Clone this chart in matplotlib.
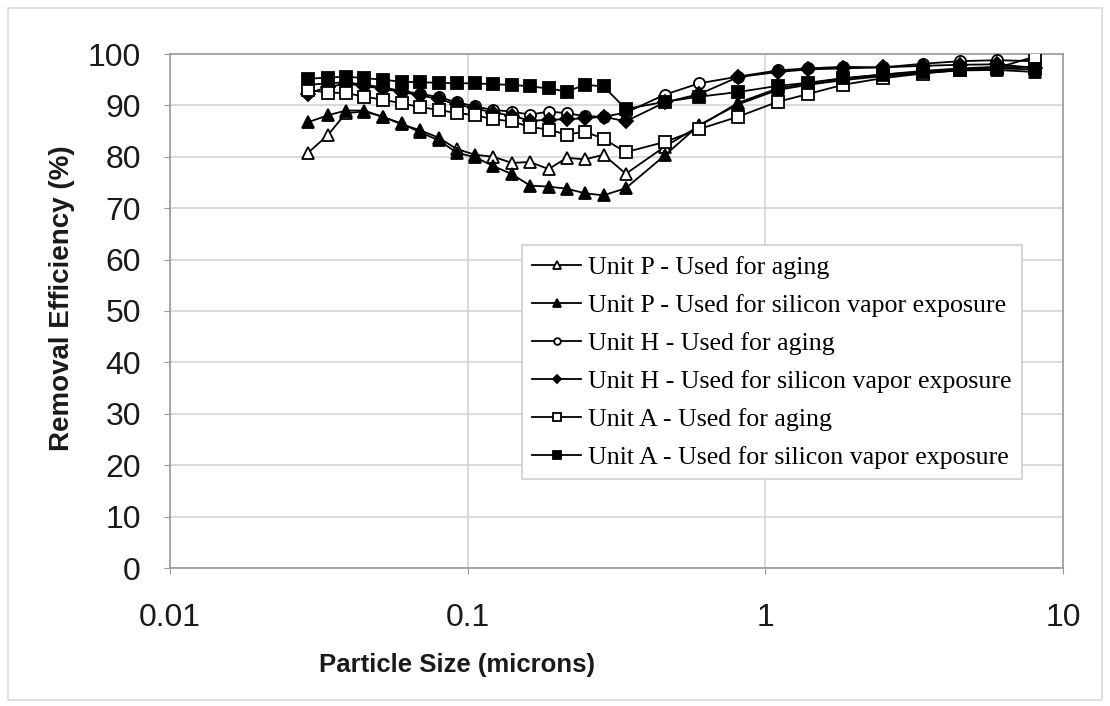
import matplotlib.pyplot as plt
from matplotlib.patches import Rectangle

# Particle size channels (microns)
sizes = [0.029, 0.034, 0.039, 0.045, 0.052, 0.060, 0.069, 0.080, 0.092, 0.106,
         0.122, 0.141, 0.162, 0.187, 0.215, 0.248, 0.286, 0.34, 0.46, 0.60,
         0.81, 1.10, 1.39, 1.82, 2.48, 3.38, 4.50, 6.0, 8.05]

# Removal efficiency (%)
p_aging = [80.7, 84.3, 88.5, 88.8, 87.8, 86.3, 85.2, 83.7, 81.5, 80.4,
           80.0, 78.8, 79.0, 77.6, 79.8, 79.5, 80.4, 76.7, 82.0, 86.0,
           90.5, 93.3, 94.3, 95.2, 96.0, 96.7, 97.2, 97.5, 97.4]
p_silicon = [86.7, 88.1, 89.0, 89.0, 87.7, 86.5, 84.8, 83.2, 80.8, 79.9,
             78.2, 76.6, 74.4, 74.2, 73.8, 72.9, 72.5, 73.9, 80.3, 86.2,
             90.2, 93.0, 94.0, 94.9, 95.7, 96.3, 96.8, 96.9, 96.5]
h_aging = [94.0, 94.3, 94.5, 94.0, 93.5, 92.8, 92.3, 91.6, 90.6, 89.8,
           89.1, 88.8, 88.2, 88.8, 88.5, 87.9, 87.8, 88.6, 92.1, 94.3,
           95.6, 96.8, 97.2, 97.5, 97.4, 98.1, 98.6, 98.8, 98.6]
h_silicon = [92.3, 93.6, 94.2, 93.8, 93.2, 92.6, 92.0, 91.2, 90.2, 89.4,
             88.6, 88.0, 87.0, 87.2, 87.3, 87.5, 87.8, 86.9, 90.6, 92.2,
             95.5, 96.5, 97.0, 97.2, 97.4, 97.7, 97.9, 98.0, 97.3]
a_aging = [93.0, 92.5, 92.4, 91.7, 91.1, 90.4, 89.7, 89.1, 88.5, 88.1,
           87.3, 86.9, 85.8, 85.3, 84.3, 84.9, 83.5, 80.9, 82.9, 85.4,
           87.8, 90.7, 92.2, 94.0, 95.3, 96.2, 96.9, 97.3, 99.5]
a_silicon = [95.2, 95.4, 95.6, 95.3, 95.0, 94.6, 94.5, 94.4, 94.3, 94.3,
             94.1, 94.0, 93.7, 93.3, 92.7, 94.0, 93.7, 89.3, 90.7, 91.7,
             92.6, 93.8, 94.4, 95.3, 96.0, 96.5, 97.0, 97.2, 97.0]

labels = ["Unit P - Used for aging",
          "Unit P - Used for silicon vapor exposure",
          "Unit H - Used for aging",
          "Unit H - Used for silicon vapor exposure",
          "Unit A - Used for aging",
          "Unit A - Used for silicon vapor exposure"]

fig = plt.figure(figsize=(11.1, 7.06), dpi=100)
ax = fig.add_axes([170 / 1110, 1 - 568 / 706, 893 / 1110, 514 / 706])

# light frame around the whole chart
fig.patches.append(Rectangle((8 / 1110, 6 / 706), 1094 / 1110, 692 / 706,
                             transform=fig.transFigure, fill=False,
                             edgecolor='#d9d9d9', linewidth=1.2))

series = [
    (p_aging, '^', 'white', 9),
    (p_silicon, '^', 'black', 9),
    (h_aging, 'o', 'white', 8),
    (h_silicon, 'D', 'black', 7),
    (a_aging, 's', 'white', 8.5),
    (a_silicon, 's', 'black', 8.5),
]
for (vals, mk, fc, ms), lab in zip(series, labels):
    ax.plot(sizes, vals, color='black', linewidth=1.3, marker=mk,
            markerfacecolor=fc, markeredgecolor='black', markeredgewidth=1.3,
            markersize=ms, label=lab, zorder=3)

ax.set_xscale('log')
ax.set_xlim(0.01, 10)
ax.set_ylim(0, 100)
ax.set_yticks(range(0, 101, 10))
ax.set_xticks([0.01, 0.1, 1, 10])
ax.set_xticklabels(['0.01', '0.1', '1', '10'])
ax.minorticks_off()
ax.grid(True, color='#d4d4d4', linewidth=1.2)
ax.set_axisbelow(True)
for s in ax.spines.values():
    s.set_color('#9a9a9a')
    s.set_linewidth(1.2)
ax.tick_params(axis='both', length=4, color='#9a9a9a', labelsize=23,
               labelcolor='#1a1a1a')
ax.tick_params(axis='y', pad=17)
ax.tick_params(axis='x', pad=21)
for t in ax.get_xticklabels() + ax.get_yticklabels():
    t.set_family('Liberation Sans')

fig.text(62 / 1110, 1 - 298 / 706, 'Removal Efficiency (%)', rotation=90,
         ha='center', va='center', fontsize=20, fontweight='bold',
         family='Liberation Sans', color='#1a1a1a')
fig.text(457 / 1110, 1 - 665 / 706, 'Particle Size (microns)',
         ha='center', va='center', fontsize=18.5, fontweight='bold',
         family='Liberation Sans', color='#1a1a1a')

leg = ax.legend(loc='upper left', bbox_to_anchor=(0.394, 0.628),
                prop={'family': 'Liberation Serif', 'size': 18.6},
                frameon=True, fancybox=False, edgecolor='#cfcfcf',
                framealpha=1, markerscale=0.6, handlelength=1.9,
                handletextpad=0.28, labelspacing=0.58, borderpad=0.4,
                borderaxespad=0)
leg.get_frame().set_linewidth(1.2)

fig.savefig('out.png', dpi=100)
